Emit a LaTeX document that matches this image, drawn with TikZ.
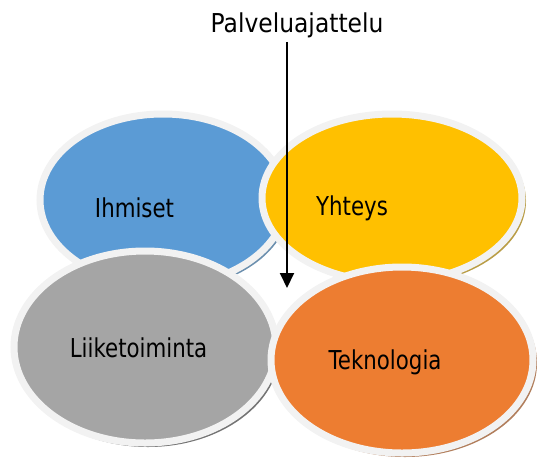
\documentclass[tikz,border=0pt]{standalone}
\usepackage{fontspec}
\setmainfont{DejaVu Sans}
\newfontfamily\lblfont[FakeStretch=0.82]{DejaVu Sans}
\newfontfamily\ttlfont[FakeStretch=0.9]{DejaVu Sans}
\usetikzlibrary{arrows.meta}
\definecolor{cblue}{HTML}{5B9BD5}
\definecolor{cyellow}{HTML}{FFC000}
\definecolor{cgray}{HTML}{A5A5A5}
\definecolor{corange}{HTML}{ED7D31}
\definecolor{crim}{HTML}{F2F2F2}
\tikzset{
  bubble/.style={draw=crim, line width=7pt, fill=#1},
  label/.style={font=\lblfont\fontsize{26}{30}\selectfont, text=black, inner sep=0pt},
}
\begin{document}
\begin{tikzpicture}[x=1pt,y=-1pt]
  \useasboundingbox (0,0) rectangle (537,461);

  % Ihmiset
  \fill[cblue!55!gray] (166,203) ellipse [x radius=124, y radius=87];
  \draw[bubble=cblue] (163,200) ellipse [x radius=123, y radius=86];
  \node[label] (ihm) at (134.5,208) {Ihmiset};

  % Yhteys
  \fill[cyellow!45!gray] (395,201) ellipse [x radius=131, y radius=85];
  \draw[bubble=cyellow] (392,198) ellipse [x radius=130, y radius=84];
  \node[label] (yht) at (352,208) {Yhteys};

  % Liiketoiminta
  \fill[cgray!70!black] (148,350) ellipse [x radius=132, y radius=97];
  \draw[bubble=cgray] (145,347) ellipse [x radius=131, y radius=96];
  \node[label] (lii) at (138.5,348) {Liiketoiminta};

  % Teknologia
  \fill[corange!45!gray] (405,363) ellipse [x radius=132, y radius=94];
  \draw[bubble=corange] (402,360) ellipse [x radius=131, y radius=93];
  \node[label] (tek) at (385,362) {Teknologia};

  % Palveluajattelu and its arrow
  \node[font=\ttlfont\fontsize{26}{30}\selectfont, inner sep=0pt] (pal) at (297,25) {Palveluajattelu};
  \coordinate (tip) at (287,288);
  \draw[line width=2pt, -{Triangle[length=15pt,width=14pt]}] (pal.south -| tip) ++(0,4) -- (tip);
\end{tikzpicture}
\end{document}
